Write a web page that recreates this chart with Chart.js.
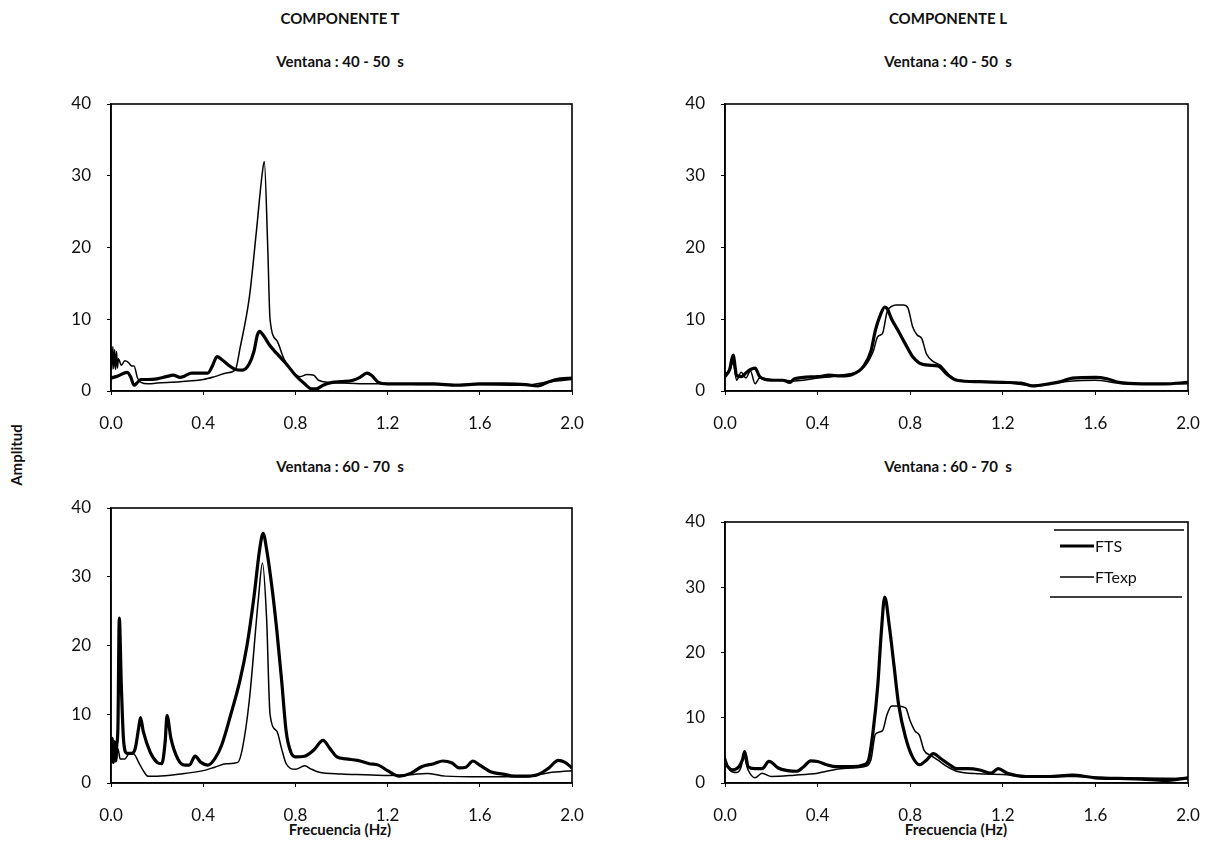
<!DOCTYPE html>
<html>
<head>
<meta charset="utf-8">
<script src="https://cdn.jsdelivr.net/npm/chart.js@4.4.0/dist/chart.umd.min.js"></script>
<style>
  body { margin: 0; background: #fff; }
  #page { position: relative; width: 1215px; height: 849px; font-family: Lato, 'Open Sans', sans-serif; color: #111; }
  .lbl { position: absolute; font-weight: bold; font-size: 15px; white-space: nowrap; transform: translate(-50%, -50%); }
  .xlbl { position: absolute; font-weight: bold; font-size: 15px; white-space: nowrap; transform: translate(-50%, -50%); }
  #amp { position: absolute; left: 16px; top: 455px; font-weight: bold; font-size: 15px; transform: translate(-50%, -50%) rotate(-90deg); }
  canvas { position: absolute; }
</style>
</head>
<body>
<div id="page">
  <div class="lbl" style="left:340px; top:18px;">COMPONENTE T</div>
  <div class="lbl" style="left:948px; top:18px;">COMPONENTE L</div>
  <div class="lbl" style="left:340px; top:61px;">Ventana : 40 - 50&nbsp; s</div>
  <div class="lbl" style="left:948px; top:61px;">Ventana : 40 - 50&nbsp; s</div>
  <div class="lbl" style="left:340px; top:466px;">Ventana : 60 - 70&nbsp; s</div>
  <div class="lbl" style="left:948px; top:466px;">Ventana : 60 - 70&nbsp; s</div>
  <div class="xlbl" style="left:340px; top:829px;">Frecuencia (Hz)</div>
  <div class="xlbl" style="left:956px; top:829px;">Frecuencia (Hz)</div>
  <div id="amp">Amplitud</div>
  <canvas id="c1"></canvas>
  <canvas id="c2"></canvas>
  <canvas id="c3"></canvas>
  <canvas id="c4"></canvas>
</div>
<script>
// Componente T, ventana 40 - 50 s
const ftsT40Freq = [0, 0.03, 0.07, 0.085, 0.1, 0.115, 0.13, 0.16, 0.2, 0.24, 0.27, 0.3, 0.32, 0.35, 0.38, 0.42, 0.44, 0.46, 0.48, 0.51, 0.54, 0.57, 0.6, 0.62, 0.635, 0.645, 0.66, 0.69, 0.72, 0.76, 0.8, 0.84, 0.87, 0.89, 0.92, 0.96, 1.0, 1.05, 1.08, 1.11, 1.13, 1.16, 1.2, 1.3, 1.4, 1.5, 1.6, 1.7, 1.8, 1.85, 1.9, 1.95, 2.0];
const ftsT40Amp = [1.8, 2.1, 2.6, 2.0, 0.8, 1.2, 1.6, 1.6, 1.7, 2.0, 2.2, 1.9, 2.1, 2.5, 2.5, 2.5, 3.5, 4.8, 4.4, 3.6, 3.0, 2.9, 3.8, 5.5, 7.8, 8.3, 7.8, 6.3, 5.2, 3.8, 2.2, 1.0, 0.3, 0.3, 0.8, 1.2, 1.3, 1.5, 1.9, 2.5, 2.2, 1.2, 1.0, 1.0, 1.0, 0.8, 1.0, 1.0, 0.9, 0.7, 1.3, 1.7, 1.8];
const expT40Freq = [0, 0.004, 0.008, 0.012, 0.016, 0.02, 0.024, 0.028, 0.032, 0.045, 0.06, 0.075, 0.09, 0.1, 0.115, 0.13, 0.16, 0.2, 0.3, 0.4, 0.45, 0.5, 0.54, 0.56, 0.6, 0.63, 0.655, 0.665, 0.68, 0.69, 0.72, 0.75, 0.78, 0.82, 0.85, 0.88, 0.9, 0.95, 1.0, 1.1, 1.2, 1.4, 1.6, 1.8, 1.9, 2.0];
const expT40Amp = [6.0, 3.0, 6.2, 3.1, 5.8, 3.0, 5.5, 3.2, 4.5, 3.6, 4.2, 4.0, 3.5, 3.5, 1.8, 1.2, 1.0, 1.1, 1.3, 1.6, 2.0, 2.5, 3.0, 6.0, 13, 22, 30, 32, 20, 10, 7, 4.5, 3.0, 2.0, 2.3, 2.2, 1.5, 1.2, 1.1, 1.0, 1.0, 0.9, 0.9, 0.8, 1.3, 1.6];

// Componente L, ventana 40 - 50 s
const ftsL40Freq = [0, 0.02, 0.035, 0.05, 0.07, 0.09, 0.11, 0.13, 0.15, 0.2, 0.25, 0.28, 0.3, 0.4, 0.45, 0.5, 0.55, 0.6, 0.63, 0.65, 0.67, 0.69, 0.7, 0.72, 0.75, 0.78, 0.81, 0.84, 0.88, 0.92, 0.96, 1.0, 1.1, 1.2, 1.28, 1.33, 1.4, 1.45, 1.5, 1.6, 1.65, 1.7, 1.8, 1.9, 2.0];
const ftsL40Amp = [2.0, 3.0, 5.0, 2.2, 2.0, 2.5, 3.0, 3.2, 2.0, 1.5, 1.5, 1.2, 1.7, 2.0, 2.2, 2.1, 2.3, 3.5, 5.5, 8.5, 10.5, 11.7, 11.5, 10.0, 8.3, 6.5, 4.8, 3.9, 3.6, 3.5, 2.3, 1.5, 1.3, 1.2, 1.1, 0.7, 1.0, 1.3, 1.8, 1.9, 1.7, 1.2, 1.0, 1.0, 1.2];
const expL40Freq = [0, 0.02, 0.035, 0.05, 0.07, 0.09, 0.11, 0.13, 0.15, 0.2, 0.3, 0.4, 0.5, 0.6, 0.64, 0.66, 0.68, 0.7, 0.72, 0.74, 0.77, 0.79, 0.81, 0.83, 0.85, 0.87, 0.9, 0.93, 0.97, 1.0, 1.1, 1.2, 1.33, 1.4, 1.5, 1.6, 1.7, 1.8, 2.0];
const expL40Amp = [2.5, 2.8, 4.0, 1.5, 2.6, 1.8, 2.8, 1.0, 1.8, 1.6, 1.4, 1.8, 2.2, 3.3, 5.5, 7.6, 8.0, 11.0, 11.8, 12.0, 12.0, 11.6, 9.0, 7.8, 7.3, 5.2, 4.1, 3.6, 2.2, 1.6, 1.3, 1.2, 0.8, 1.0, 1.4, 1.5, 1.1, 1.0, 1.0];

// Componente T, ventana 60 - 70 s
const ftsT60Freq = [0, 0.005, 0.01, 0.015, 0.02, 0.025, 0.03, 0.036, 0.045, 0.055, 0.07, 0.09, 0.105, 0.12, 0.128, 0.14, 0.17, 0.2, 0.22, 0.235, 0.243, 0.26, 0.29, 0.32, 0.34, 0.365, 0.39, 0.42, 0.45, 0.48, 0.52, 0.56, 0.59, 0.62, 0.645, 0.66, 0.675, 0.7, 0.72, 0.74, 0.76, 0.78, 0.8, 0.84, 0.88, 0.92, 0.95, 0.98, 1.02, 1.07, 1.12, 1.16, 1.2, 1.25, 1.3, 1.35, 1.4, 1.44, 1.48, 1.51, 1.54, 1.57, 1.6, 1.65, 1.7, 1.75, 1.8, 1.85, 1.9, 1.94, 1.97, 2.0];
const ftsT60Amp = [3, 6.5, 3, 6, 3.2, 5.5, 8, 24, 14, 6, 4.3, 4.3, 5, 8, 9.5, 7.5, 4.5, 3.0, 2.8, 6, 9.8, 6.5, 3.5, 2.6, 2.6, 3.9, 3.0, 2.6, 3.5, 5.5, 10, 15, 20, 27, 34, 36.3, 34, 28, 22, 15, 7.5, 4.5, 3.8, 3.9, 4.8, 6.2, 5.0, 3.8, 3.5, 3.3, 2.8, 2.6, 1.8, 1.0, 1.4, 2.4, 2.8, 3.2, 2.9, 2.2, 2.3, 3.2, 2.6, 1.6, 1.3, 1.0, 1.0, 1.2, 2.2, 3.3, 3.0, 2.2];
const expT60Freq = [0, 0.006, 0.012, 0.018, 0.024, 0.03, 0.04, 0.06, 0.08, 0.1, 0.12, 0.14, 0.16, 0.2, 0.3, 0.4, 0.45, 0.5, 0.55, 0.57, 0.6, 0.64, 0.657, 0.675, 0.69, 0.72, 0.74, 0.76, 0.8, 0.84, 0.87, 0.9, 1.0, 1.1, 1.2, 1.3, 1.37, 1.45, 1.6, 1.8, 1.9, 2.0];
const expT60Amp = [3.5, 6.5, 3.2, 6, 3.5, 5, 3.5, 3.5, 4.3, 4.2, 3.0, 1.8, 1.0, 1.0, 1.3, 1.8, 2.3, 2.8, 3.0, 5, 12, 27, 32, 24, 10, 7.5, 5, 2.8, 2.0, 2.5, 2.0, 1.6, 1.3, 1.2, 1.1, 1.2, 1.4, 1.0, 0.9, 0.9, 1.5, 1.8];

// Componente L, ventana 60 - 70 s
const ftsL60Freq = [0, 0.03, 0.06, 0.075, 0.085, 0.1, 0.13, 0.16, 0.19, 0.2, 0.23, 0.27, 0.31, 0.34, 0.37, 0.4, 0.44, 0.48, 0.55, 0.6, 0.62, 0.64, 0.66, 0.675, 0.69, 0.71, 0.73, 0.75, 0.78, 0.81, 0.84, 0.87, 0.9, 0.93, 0.97, 1.0, 1.05, 1.1, 1.15, 1.18, 1.22, 1.3, 1.4, 1.5, 1.6, 1.7, 1.8, 1.9, 2.0];
const ftsL60Amp = [3.0, 2.0, 2.5, 3.5, 4.8, 2.5, 2.2, 2.2, 3.3, 3.2, 2.3, 1.9, 1.8, 2.5, 3.4, 3.3, 2.8, 2.5, 2.5, 2.8, 3.5, 8, 15, 23, 28.5, 24, 18, 12, 7, 4.0, 2.8, 3.5, 4.5, 3.8, 2.8, 2.2, 2.2, 2.0, 1.5, 2.2, 1.5, 1.0, 1.0, 1.2, 0.8, 0.7, 0.6, 0.4, 0.8];
const expL60Freq = [0, 0.02, 0.05, 0.07, 0.08, 0.1, 0.13, 0.16, 0.2, 0.3, 0.4, 0.5, 0.6, 0.63, 0.65, 0.68, 0.7, 0.72, 0.74, 0.78, 0.8, 0.82, 0.84, 0.86, 0.89, 0.92, 0.96, 1.0, 1.1, 1.2, 1.3, 1.5, 1.7, 2.0];
const expL60Amp = [4.0, 2.0, 1.6, 2.5, 4.2, 2.0, 0.8, 1.5, 1.0, 1.2, 1.5, 2.2, 2.5, 3.5, 7.5, 8.0, 10.5, 11.8, 11.8, 11.5, 9.5, 8.0, 7.3, 5.0, 4.2, 3.5, 2.5, 1.8, 1.4, 1.3, 1.0, 1.0, 0.8, 0.7];

const xTicks = [0, 0.4, 0.8, 1.2, 1.6, 2.0];
const yTicks = [0, 10, 20, 30, 40];
const seriesNames = ['FTS', 'FTexp'];

const FONT = "Lato, 'Open Sans', sans-serif";
// tick padding is added to the label overflow, so top/right padding must cover it
const Y_AXIS_W = 62, X_AXIS_H = 48, PAD_TOP = 32, PAD_RIGHT = 36;

// box round the plot area, and the legend for the last panel
const framePlugin = {
  id: 'frame',
  afterDraw(chart) {
    const a = chart.chartArea, ctx = chart.ctx;
    ctx.save();
    ctx.strokeStyle = '#000';
    ctx.lineWidth = 1.6;
    ctx.strokeRect(a.left, a.top, a.right - a.left, a.bottom - a.top);
    if (chart.options.plugins.frame && chart.options.plugins.frame.legend) {
      const r = a.right, t = a.top;
      ctx.lineWidth = 1.3;
      ctx.beginPath();
      ctx.moveTo(r - 134, t + 8); ctx.lineTo(r - 4, t + 8);
      ctx.moveTo(r - 138, t + 75); ctx.lineTo(r - 6, t + 75);
      ctx.stroke();
      ctx.font = '16px ' + FONT;
      ctx.fillStyle = '#111';
      ctx.textBaseline = 'middle';
      ctx.lineWidth = 3.2;
      ctx.beginPath(); ctx.moveTo(r - 128, t + 24); ctx.lineTo(r - 94, t + 24); ctx.stroke();
      ctx.fillText(seriesNames[0], r - 93, t + 25);
      ctx.lineWidth = 1.5;
      ctx.beginPath(); ctx.moveTo(r - 128, t + 55); ctx.lineTo(r - 94, t + 55); ctx.stroke();
      ctx.fillText(seriesNames[1], r - 93, t + 56);
    }
    ctx.restore();
  }
};

function pts(freq, amp) {
  return freq.map((f, i) => ({ x: f, y: amp[i] }));
}

function makePanel(id, box, fts, exp, legend) {
  const cv = document.getElementById(id);
  const w = box.right - box.left + Y_AXIS_W + PAD_RIGHT;
  const h = box.bottom - box.top + X_AXIS_H + PAD_TOP;
  cv.width = w; cv.height = h;
  cv.style.left = (box.left - Y_AXIS_W) + 'px';
  cv.style.top = (box.top - PAD_TOP) + 'px';
  cv.style.width = w + 'px'; cv.style.height = h + 'px';

  return new Chart(cv, {
    type: 'line',
    data: {
      datasets: [
        { label: seriesNames[0], data: fts, borderColor: '#000', borderWidth: 3.2, pointRadius: 0, cubicInterpolationMode: 'monotone' },
        { label: seriesNames[1], data: exp, borderColor: '#000', borderWidth: 1.5, pointRadius: 0, cubicInterpolationMode: 'monotone' }
      ]
    },
    options: {
      responsive: false,
      animation: false,
      layout: { padding: { top: PAD_TOP, right: PAD_RIGHT, left: 0, bottom: 0 } },
      plugins: { legend: { display: false }, tooltip: { enabled: false }, frame: { legend: legend } },
      scales: {
        x: {
          type: 'linear', min: 0, max: 2,
          afterBuildTicks: s => { s.ticks = xTicks.map(v => ({ value: v })); },
          afterFit: s => { s.height = X_AXIS_H; },
          ticks: { callback: v => v.toFixed(1), color: '#111', font: { family: FONT, size: 17 }, padding: 18, maxRotation: 0 },
          grid: { drawOnChartArea: false, tickLength: 4, color: '#000' },
          border: { color: '#000', width: 1.6 }
        },
        y: {
          min: 0, max: 40,
          afterBuildTicks: s => { s.ticks = yTicks.map(v => ({ value: v })); },
          afterFit: s => { s.width = Y_AXIS_W; },
          ticks: { color: '#111', font: { family: FONT, size: 17 }, padding: 16 },
          grid: { drawOnChartArea: false, tickLength: 4, color: '#000' },
          border: { color: '#000', width: 1.6 }
        }
      }
    },
    plugins: [framePlugin]
  });
}

makePanel('c1', { left: 111, right: 572, top: 104, bottom: 391 }, pts(ftsT40Freq, ftsT40Amp), pts(expT40Freq, expT40Amp), false);
makePanel('c2', { left: 725, right: 1188, top: 104, bottom: 391 }, pts(ftsL40Freq, ftsL40Amp), pts(expL40Freq, expL40Amp), false);
makePanel('c3', { left: 111, right: 572, top: 508, bottom: 783 }, pts(ftsT60Freq, ftsT60Amp), pts(expT60Freq, expT60Amp), false);
makePanel('c4', { left: 725, right: 1188, top: 522, bottom: 783 }, pts(ftsL60Freq, ftsL60Amp), pts(expL60Freq, expL60Amp), true);
</script>
</body>
</html>
